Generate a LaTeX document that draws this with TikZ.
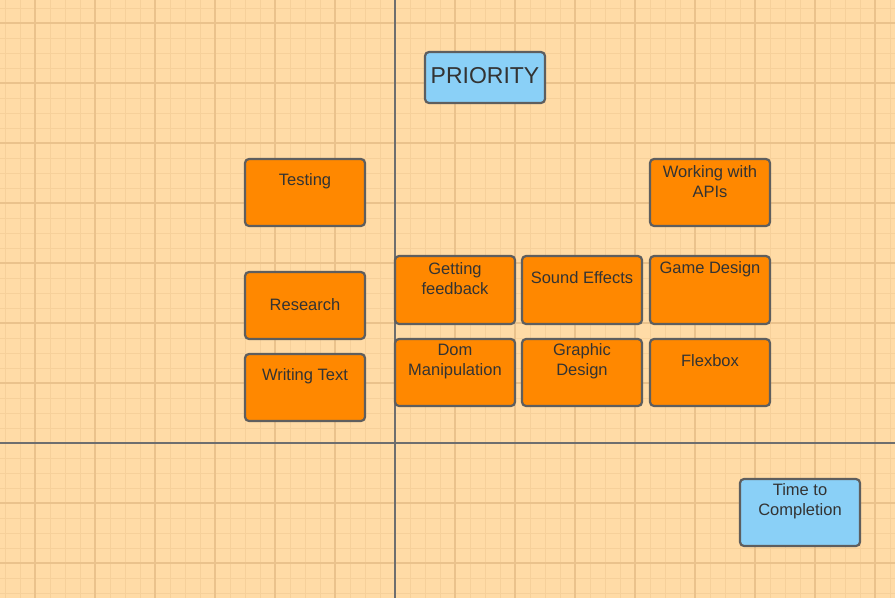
\documentclass[tikz,border=0pt]{standalone}
\usepackage{fontspec}
\setmainfont{Liberation Sans}
\definecolor{bgc}{RGB}{255,219,166}
\definecolor{minorc}{RGB}{246,208,154}
\definecolor{majorc}{RGB}{234,194,140}
\definecolor{axisc}{RGB}{110,110,110}
\definecolor{edgec}{RGB}{94,94,94}
\definecolor{orangec}{RGB}{255,136,0}
\definecolor{bluec}{RGB}{138,208,247}
\definecolor{txtc}{RGB}{51,51,51}
\tikzset{
  card/.style={draw=edgec, line width=2.2pt, rounded corners=4pt, fill=orangec,
    minimum width=120pt, minimum height=67pt, inner sep=0pt, outer sep=0pt},
  bluecard/.style={card, fill=bluec},
  lbl/.style={text=txtc, font=\fontsize{16.5}{20}\selectfont, align=center, inner sep=0pt},
  biglbl/.style={text=txtc, font=\fontsize{23}{27}\selectfont, inner sep=0pt},
  axisline/.style={draw=axisc, line width=1.8pt}
}
\begin{document}
\begin{tikzpicture}[x=1pt,y=-1pt]
\useasboundingbox (0,0) rectangle (895,598);
\fill[bgc] (0,0) rectangle (895,598);
% minor grid
\foreach \i in {0,...,59} {
  \draw[minorc, line width=0.9pt] ({5+15*\i},0) -- ({5+15*\i},598);
}
\foreach \j in {0,...,39} {
  \draw[minorc, line width=0.9pt] (0,{8+15*\j}) -- (895,{8+15*\j});
}
% major grid
\foreach \i in {0,...,14} {
  \draw[majorc, line width=1.1pt] ({35+60*\i},0) -- ({35+60*\i},598);
}
\foreach \j in {0,...,9} {
  \draw[majorc, line width=1.1pt] (0,{23+60*\j}) -- (895,{23+60*\j});
}
% axes
\coordinate (vtop) at (395,0);
\coordinate (vbot) at (395,598);
\coordinate (hl) at (0,443);
\coordinate (hr) at (895,443);
\draw[axisline] (vtop) -- (vbot);
\draw[axisline] (hl) -- (hr);

% boxes
\node[bluecard, minimum height=51pt] (priority) at (485,77.5) {};
\node[biglbl] (prioritytxt) at (485,76) {PRIORITY};

\node[card] (testing) at (305,192.5) {};
\node[lbl] (testingtxt) at (305,181) {Testing};

\node[card] (apis) at (710,192.5) {};
\node[lbl] (apistxt) at (710,181.5) {Working with\\APIs};

\node[card] (research) at (305,305.5) {};
\node[lbl] (researchtxt) at (305,305) {Research};

\node[card] (writing) at (305,387.5) {};
\node[lbl] (writingtxt) at (305,376) {Writing Text};

\node[card, minimum height=68pt] (feedback) at (455,290) {};
\node[lbl] (feedbacktxt) at (455,278.5) {Getting\\feedback};

\node[card, minimum height=68pt] (sound) at (582,290) {};
\node[lbl] (soundtxt) at (582,278) {Sound Effects};

\node[card, minimum height=68pt] (game) at (710,290) {};
\node[lbl] (gametxt) at (710,269) {Game Design};

\node[card] (dom) at (455,372.5) {};
\node[lbl] (domtxt) at (455,361.5) {Dom\\Manipulation};

\node[card] (graphic) at (582,372.5) {};
\node[lbl] (graphictxt) at (582,361.5) {Graphic\\Design};

\node[card] (flexbox) at (710,372.5) {};
\node[lbl] (flexboxtxt) at (710,361) {Flexbox};

\node[bluecard] (time) at (800,512.5) {};
\node[lbl] (timetxt) at (800,501.5) {Time to\\Completion};
\end{tikzpicture}
\end{document}
